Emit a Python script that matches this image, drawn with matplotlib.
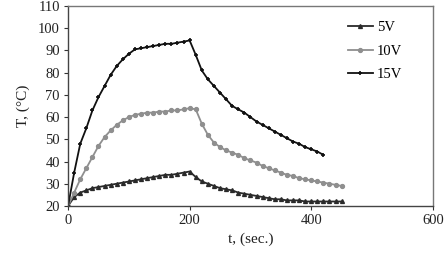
import matplotlib.pyplot as plt
import numpy as np

plt.rcParams['font.family'] = ['Liberation Serif', 'DejaVu Serif']

t15 = list(range(0, 421, 10))
v15 = [20, 35, 48, 55, 63, 69, 74, 79, 83, 86, 88.5, 90.5, 91, 91.5, 92, 92.5,
       93, 93, 93.5, 94, 94.5, 88, 81, 77, 74, 71, 68, 65, 63.5, 62, 60, 58,
       56.5, 55, 53.5, 52, 50.5, 49, 48, 46.5, 45.5, 44.5, 43]

t10 = list(range(0, 451, 10))
v10 = [20, 26, 32, 37, 42, 47, 51, 54, 56.5, 58.5, 60, 61, 61.5, 62, 62, 62.5,
       62.5, 63, 63, 63.5, 64, 63.5, 57, 52, 48.5, 46.5, 45, 44, 43, 41.5, 40.5,
       39.5, 38, 37, 36, 35, 34, 33.5, 32.5, 32, 31.5, 31, 30.5, 30, 29.5, 29]

t5 = list(range(0, 451, 10))
v5 = [20, 24, 26, 27, 28, 28.5, 29, 29.5, 30, 30.5, 31, 31.5, 32, 32.5, 33,
      33.5, 34, 34, 34.5, 35, 35.5, 33, 31, 30, 29, 28, 27.5, 27, 26, 25.5, 25,
      24.5, 24, 23.5, 23, 23, 22.5, 22.5, 22.5, 22, 22, 22, 22, 22, 22, 22]

fig = plt.figure(figsize=(4.48, 2.63), dpi=100)
ax = fig.add_axes([0.152, 0.217, 0.814, 0.760])

ax.plot(t5, v5, color='#2a2a2a', marker='^', markersize=2.8, linewidth=1.3, label='5V')
ax.plot(t10, v10, color='#8f8f8f', marker='o', markersize=2.8, linewidth=1.3, label='10V')
ax.plot(t15, v15, color='#111111', marker='+', markersize=3.5, markeredgewidth=1.2,
        linewidth=1.3, label='15V')

ax.set_xlim(0, 600)
ax.set_ylim(20, 110)
ax.set_xticks([0, 200, 400, 600])
ax.set_yticks(range(20, 111, 10))
ax.tick_params(labelsize=10.5, length=3, width=0.8, colors='#333333',
               labelcolor='#222222', pad=3)

for s in ax.spines.values():
    s.set_color('#777777')
    s.set_linewidth(1.0)
ax.spines['left'].set_color('#444444')
ax.spines['bottom'].set_color('#444444')

ax.set_xlabel('t, (sec.)', fontsize=11, color='#222222', labelpad=4)
ax.set_ylabel('T, (°C)', fontsize=11, color='#222222', labelpad=6)

ax.legend(loc='upper left', bbox_to_anchor=(348 / 448, 1 - 21 / 263),
          bbox_transform=fig.transFigure, frameon=False, fontsize=10.5,
          handlelength=1.7, handletextpad=0.3, labelspacing=0.7,
          borderaxespad=0, borderpad=0)

fig.savefig('out.png', dpi=100)
